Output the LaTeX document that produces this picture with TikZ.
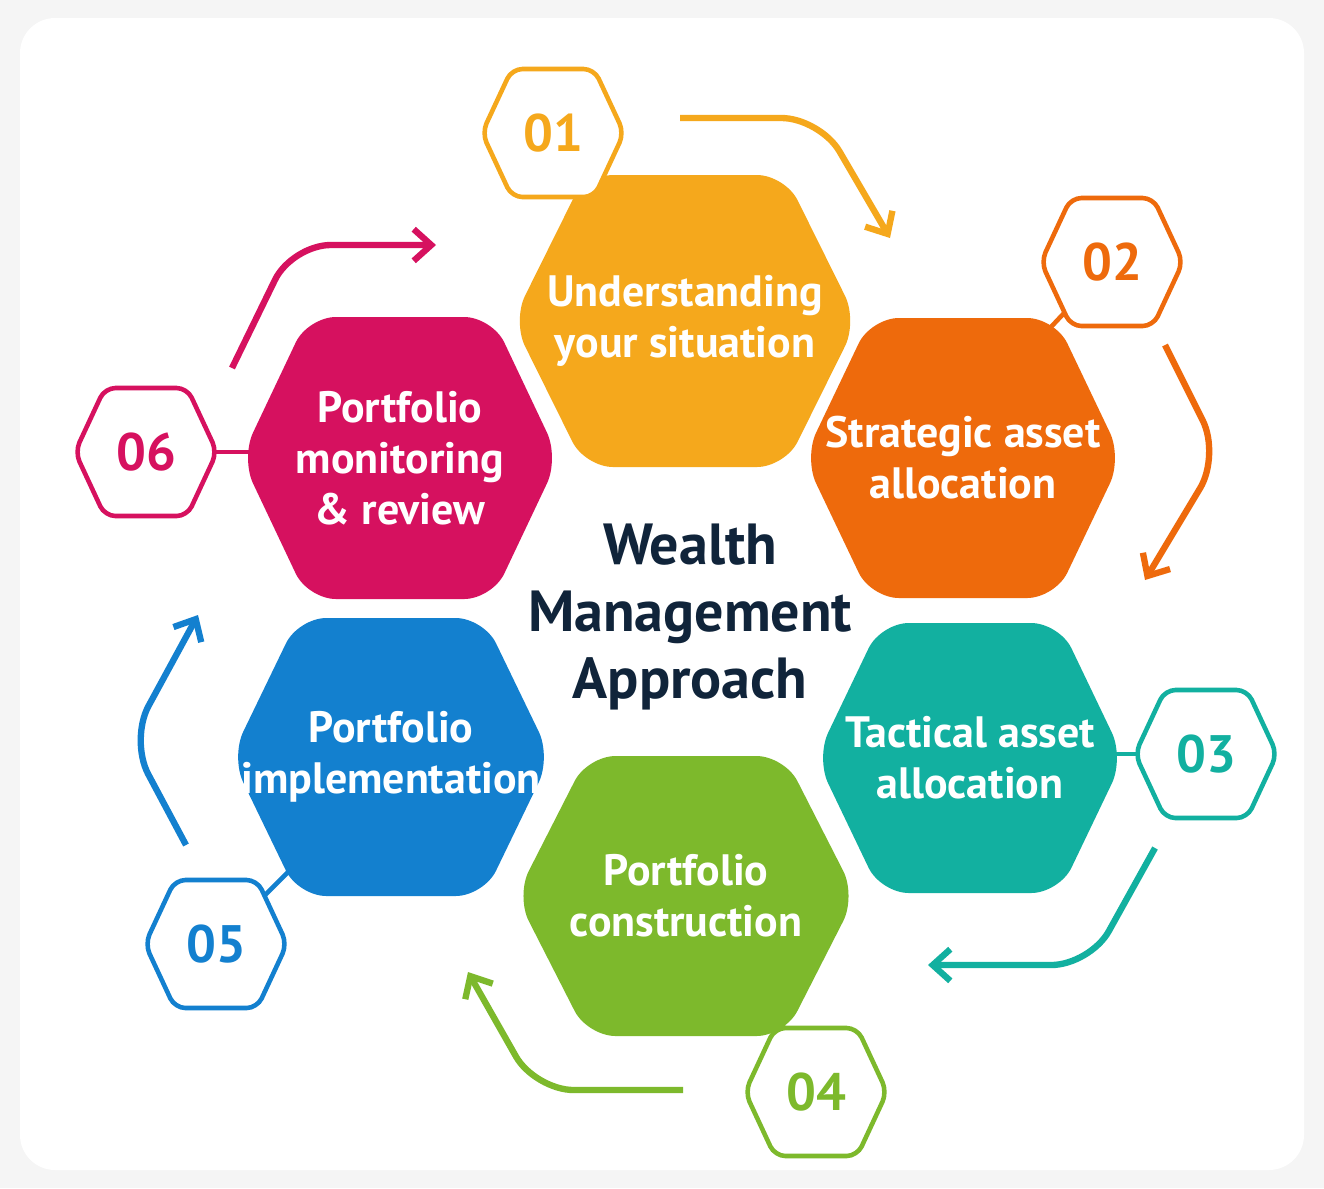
\documentclass[tikz,border=0pt]{standalone}
\usepackage{fontspec}
\setmainfont{PT Sans}
\usetikzlibrary{arrows.meta}
\definecolor{cyellow}{HTML}{F5A81C}
\definecolor{corange}{HTML}{EE6A0C}
\definecolor{cteal}{HTML}{12B0A0}
\definecolor{cgreen}{HTML}{7DB92C}
\definecolor{cblue}{HTML}{1380CF}
\definecolor{cmag}{HTML}{D6115F}
\definecolor{navy}{HTML}{10243A}
\tikzset{
  bighex/.style={fill=#1, draw=none, rounded corners=16pt},
  smallhex/.style={fill=white, draw=#1, line width=2.6pt, rounded corners=6pt},
  steptext/.style={text=white, font=\fontsize{25}{29}\selectfont\bfseries, align=center},
  numtext/.style={text=#1, font=\fontsize{30}{30}\selectfont\bfseries},
  flow/.style={draw=#1, line width=3.6pt, rounded corners=22pt, -{Straight Barb[length=10pt,width=18pt]}},
  link/.style={draw=#1, line width=2.6pt}
}
% #1 name, #2 x, #3 y, #4 width, #5 height, #6 style
\newcommand\hexa[6]{%
  \path[#6] (#2-#4/2,#3) -- (#2-0.29*#4,#3-#5/2) -- (#2+0.29*#4,#3-#5/2)
    -- (#2+#4/2,#3) -- (#2+0.29*#4,#3+#5/2) -- (#2-0.29*#4,#3+#5/2) -- cycle;
  \coordinate (#1) at (#2,#3);}
\begin{document}
\begin{tikzpicture}[x=0.02cm, y=-0.02cm]
  \useasboundingbox (0,0) rectangle (1324,1188);
  \fill[gray!8] (0,0) rectangle (1324,1188);
  \fill[white, rounded corners=20pt] (20,18) rectangle (1304,1170);
  % link ends
  \coordinate (c1) at (553,133);
  \coordinate (c2) at (1112,262);
  \coordinate (c3) at (1206,754);
  \coordinate (c4) at (816,1092);
  \coordinate (c5) at (216,944);
  \coordinate (c6) at (146,452);
  \draw[link=cyellow] (c1) -- (640,260);
  \draw[link=corange] (c2) -- (1020,360);
  \draw[link=cteal] (c3) -- (1080,754);
  \draw[link=cgreen] (c4) -- (770,1000);
  \draw[link=cblue] (c5) -- (300,860);
  \draw[link=cmag] (c6) -- (290,452);
  % steps
  \hexa{h1}{685}{321}{345}{292}{bighex=cyellow}
  \hexa{h2}{963}{458}{318}{280}{bighex=corange}
  \hexa{h3}{970}{758}{308}{270}{bighex=cteal}
  \hexa{h4}{686}{896}{340}{280}{bighex=cgreen}
  \hexa{h5}{391}{757}{320}{278}{bighex=cblue}
  \hexa{h6}{400}{458}{318}{282}{bighex=cmag}
  \node[steptext] (t1) at (h1) {Understanding\\your situation};
  \node[steptext] (t2) at (h2) {Strategic asset\\allocation};
  \node[steptext] (t3) at (h3) {Tactical asset\\allocation};
  \node[steptext] (t4) at (h4) {Portfolio\\construction};
  \node[steptext] (t5) at (h5) {Portfolio\\implementation};
  \node[steptext] (t6) at (h6) {Portfolio\\monitoring\\\& review};
  % numbers
  \hexa{n1}{553}{133}{142}{128}{smallhex=cyellow}
  \hexa{n2}{1112}{262}{142}{128}{smallhex=corange}
  \hexa{n3}{1206}{754}{142}{128}{smallhex=cteal}
  \hexa{n4}{816}{1092}{142}{128}{smallhex=cgreen}
  \hexa{n5}{216}{944}{142}{128}{smallhex=cblue}
  \hexa{n6}{146}{452}{142}{128}{smallhex=cmag}
  \node[numtext=cyellow] at (n1) {01};
  \node[numtext=corange] at (n2) {02};
  \node[numtext=cteal] at (n3) {03};
  \node[numtext=cgreen] at (n4) {04};
  \node[numtext=cblue] at (n5) {05};
  \node[numtext=cmag] at (n6) {06};
  % flow
  \coordinate (a1) at (680,118);  \coordinate (b1) at (890,238);
  \coordinate (a2) at (1165,345); \coordinate (b2) at (1145,580);
  \coordinate (a3) at (1155,848); \coordinate (b3) at (928,965);
  \coordinate (a4) at (683,1090); \coordinate (b4) at (468,972);
  \coordinate (a5) at (186,845);  \coordinate (b5) at (198,615);
  \coordinate (a6) at (232,368);  \coordinate (b6) at (436,245);
  \draw[flow=cyellow] (a1) -- (820,118) -- (b1);
  \draw[flow=corange] (a2) -- (1220,455) -- (b2);
  \draw[flow=cteal] (a3) -- (1090,965) -- (b3);
  \draw[flow=cgreen] (a4) -- (535,1090) -- (b4);
  \draw[flow=cblue] (a5) -- (130,740) -- (b5);
  \draw[flow=cmag] (a6) -- (292,245) -- (b6);
  \node[text=navy, font=\fontsize{33}{38}\selectfont\bfseries, align=center] (title) at (690,617) {Wealth\\Management\\Approach};
\end{tikzpicture}
\end{document}
